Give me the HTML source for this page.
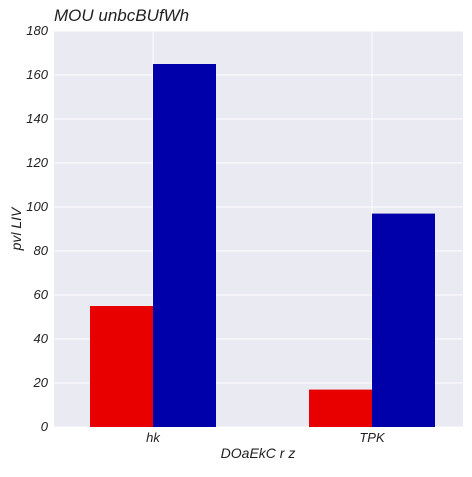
<!DOCTYPE html>
<html><head><meta charset="utf-8"><style>
body{margin:0;background:#fff;}
svg text{font-family:"Liberation Sans",sans-serif;font-style:italic;}
</style></head><body>
<svg id="chart" width="472" height="472">
<text x="54" y="21" font-size="17" fill="#222">MOU unbcBUfWh</text>
<rect x="54" y="31" width="409" height="396" fill="#EAEAF2"/>
<g id="grid"></g>
<g id="bars"></g>
<g id="ticks"></g>
<text x="258" y="458" font-size="14" text-anchor="middle" fill="#222">DOaEkC r z</text>
<text transform="translate(21,229) rotate(-90)" font-size="14" text-anchor="middle" fill="#222">pvl LIV</text>
</svg>
<script>
const categories=["hk","TPK"];
const seriesRed=[55,17];
const seriesBlue=[165,97];
const yTicks=[0,20,40,60,80,100,120,140,160,180];
const NS="http://www.w3.org/2000/svg";
const x0=54,x1=463,y0=427,y1=31,yMax=180;
const yScale=v=>y0-(v/yMax)*(y0-y1);
function cx(i){return x0+99+i*219;}
function el(t,a,p){const e=document.createElementNS(NS,t);for(const k in a)e.setAttribute(k,a[k]);p.appendChild(e);return e;}
const grid=document.getElementById('grid'),bars=document.getElementById('bars'),ticks=document.getElementById('ticks');
yTicks.forEach(v=>{
 const l=el('line',{x1:x0,x2:x1,y1:yScale(v),y2:yScale(v),stroke:'#fff','stroke-width':1},grid);
 
 
 const t=el('text',{x:48,y:yScale(v)+4,'font-size':13,'text-anchor':'end',fill:'#222'},ticks);
 t.textContent=v;
 
 
});
const bw=63;
categories.forEach((c,i)=>{
 const c0=cx(i);
 const g=el('line',{x1:c0,x2:c0,y1:y1,y2:y0,stroke:'#fff','stroke-width':1},grid);
 
 
 const r=el('rect',{x:c0-bw,y:yScale(seriesRed[i]),width:bw,height:y0-yScale(seriesRed[i]),fill:'#E80000'},bars);
 
 
 const b=el('rect',{x:c0,y:yScale(seriesBlue[i]),width:bw,height:y0-yScale(seriesBlue[i]),fill:'#0000AA'},bars);
 
 
 const t=el('text',{x:c0,y:442,'font-size':13,'text-anchor':'middle',fill:'#222'},ticks);
 t.textContent=c;
 
 
});
</script>
</body></html>
